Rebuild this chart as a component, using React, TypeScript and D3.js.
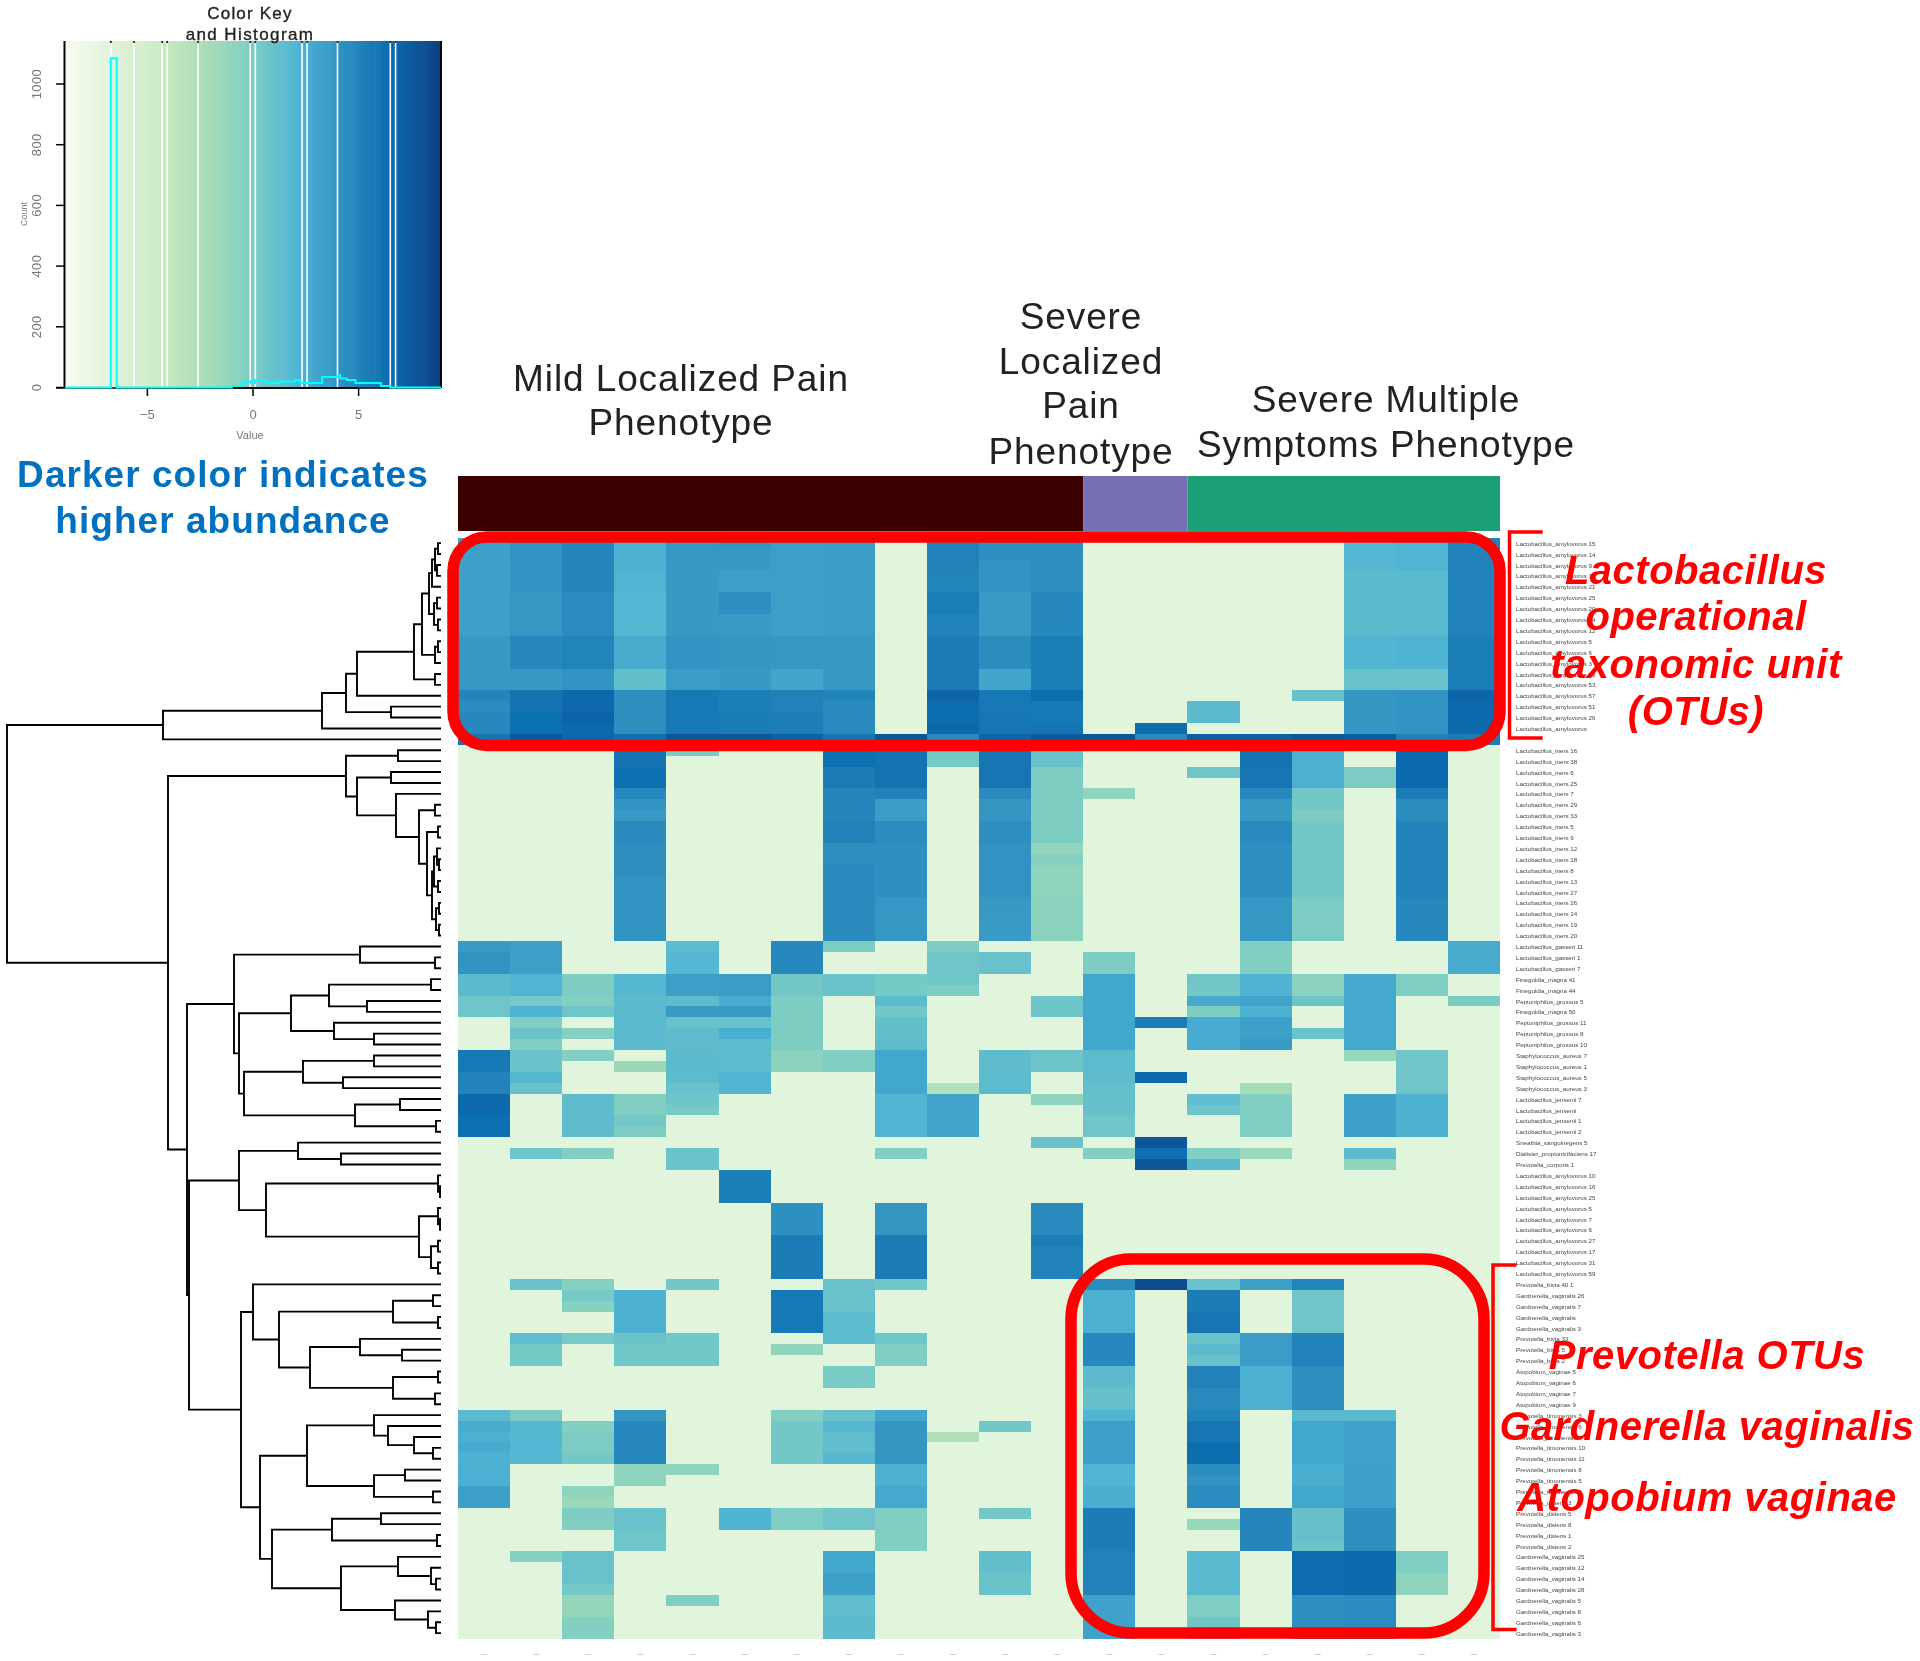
import React, { useMemo } from "react";
import * as d3 from "d3";

const BG = -6.8;
const gnBu = ["#f7fcf0", "#e0f3db", "#ccebc5", "#a8ddb5", "#7bccc4", "#4eb3d3", "#2b8cbe", "#0868ac", "#084081"];
const valueMin = -8.9, valueMax = 8.9;

// Each column: [first row, row after last, value]; rows not listed hold the background value.
const col00 = [[0,9,3.3],[9,14,3.7],[14,15,4.8],[15,16,4.4],[16,18,4.7],[18,19,5.8],[37,38,3.6],[38,40,4.1],[40,42,1.6],[42,44,0.6],[47,49,5.6],[49,51,5.0],[51,53,6.7],[53,55,6.2],[80,81,1.6],[81,82,2.6],[82,83,2.4],[83,84,2.7],[84,85,2.3],[85,87,2.4],[87,89,3.4]];
const col01 = [[0,2,4.1],[2,5,4.0],[5,9,3.8],[9,12,4.7],[12,14,3.8],[14,16,6.0],[16,18,6.2],[18,19,7.5],[37,40,3.3],[40,42,2.1],[42,43,0.3],[43,44,2.2],[44,45,-0.3],[45,46,0.8],[46,47,-0.3],[47,49,0.8],[49,50,1.8],[50,51,0.9],[56,57,0.7],[68,69,1.0],[73,74,1.3],[74,76,0.3],[80,81,0.0],[81,83,1.8],[83,85,1.9],[93,94,-0.6]];
const col02 = [[0,5,4.8],[5,9,4.5],[9,12,4.9],[12,14,4.0],[14,16,6.7],[16,17,6.9],[17,18,6.6],[18,19,6.8],[40,42,-0.1],[42,43,-0.3],[43,44,0.6],[45,46,-0.5],[47,48,-0.4],[51,55,1.4],[56,57,-0.4],[68,69,-0.5],[69,70,0.3],[70,71,-0.6],[73,74,0.2],[81,82,-0.4],[82,84,0.0],[84,85,0.4],[87,88,-1.0],[88,89,-1.6],[89,90,-0.1],[90,91,-0.3],[93,96,0.9],[96,97,0.3],[97,99,-1.3],[99,101,-0.4]];
const col03 = [[0,3,2.3],[3,5,2.1],[5,9,1.9],[9,12,2.6],[12,14,1.2],[14,18,4.3],[18,19,6.2],[19,21,6.0],[21,23,6.1],[23,24,4.7],[24,25,4.0],[25,26,3.6],[26,28,4.6],[28,31,4.3],[31,37,4.0],[40,42,1.8],[42,44,1.6],[44,45,1.7],[45,47,1.6],[48,49,-1.6],[51,53,-0.3],[53,54,0.4],[54,55,0.0],[69,73,2.3],[73,74,0.8],[74,76,0.5],[80,81,3.9],[81,85,4.7],[85,87,-0.9],[89,91,1.0],[91,93,0.6]];
const col04 = [[0,2,3.8],[2,9,3.7],[9,12,4.0],[12,14,3.5],[14,16,5.6],[16,18,5.7],[18,19,7.6],[19,20,0.1],[37,38,1.5],[38,40,1.9],[40,42,3.4],[42,43,1.5],[43,44,3.6],[44,45,1.0],[45,47,1.4],[47,49,1.6],[49,50,1.5],[50,51,1.0],[51,52,0.7],[52,53,0.2],[56,58,0.8],[68,69,0.4],[73,76,0.5],[85,86,-1.0],[97,98,-0.2]];
const col05 = [[0,1,4.0],[1,3,3.7],[3,5,3.4],[5,7,4.2],[7,9,3.6],[9,12,3.9],[12,14,3.7],[14,16,5.2],[16,18,5.5],[18,19,7.7],[40,42,3.5],[42,43,2.6],[43,44,3.6],[44,45,1.0],[45,46,2.5],[46,49,1.5],[49,51,2.0],[58,61,5.2],[89,91,2.2]];
const col06 = [[0,9,3.4],[9,12,3.8],[12,14,3.0],[14,16,5.1],[16,18,5.3],[18,19,7.0],[37,40,4.7],[40,42,0.4],[42,47,-0.1],[47,49,-0.8],[61,64,4.2],[64,68,5.4],[69,73,5.6],[74,75,-1.0],[80,81,-0.4],[81,85,0.4],[89,91,-0.2]];
const col07 = [[0,9,3.5],[9,14,3.7],[14,15,4.9],[15,18,4.6],[18,19,6.0],[19,21,6.1],[21,23,5.4],[23,26,4.8],[26,28,5.0],[28,30,4.3],[30,37,4.6],[37,38,0.0],[40,42,0.8],[47,49,-0.3],[68,71,1.0],[71,74,1.5],[76,78,0.1],[80,81,0.9],[81,82,1.9],[82,84,1.3],[84,85,1.9],[89,91,0.6],[93,95,2.9],[95,97,3.4],[97,99,1.3],[99,101,1.6]];
const col08 = [[18,19,7.8],[19,23,6.0],[23,24,5.0],[24,26,3.5],[26,28,4.4],[28,33,4.2],[33,37,3.8],[40,42,0.3],[42,43,1.5],[43,44,0.4],[44,46,1.2],[46,47,1.4],[47,51,2.9],[51,55,2.1],[56,57,-0.3],[61,64,3.9],[64,68,5.5],[68,69,0.5],[73,74,0.6],[74,76,-0.2],[80,81,2.9],[81,85,3.9],[85,87,2.3],[87,89,2.8],[89,93,-0.3]];
const col09 = [[0,3,5.1],[3,5,4.9],[5,7,5.3],[7,9,5.0],[9,14,5.5],[14,15,6.8],[15,17,6.3],[17,18,6.7],[18,19,4.6],[19,21,0.3],[37,38,-0.1],[38,41,0.6],[41,42,-0.1],[50,51,-2.8],[51,55,3.0],[82,83,-2.7]];
const col10 = [[0,2,4.2],[2,5,4.0],[5,9,3.6],[9,12,4.4],[12,14,3.0],[14,16,5.7],[16,18,5.9],[18,19,6.8],[19,23,5.9],[23,24,4.6],[24,26,3.9],[26,28,4.3],[28,33,4.1],[33,35,3.7],[35,37,3.6],[38,40,1.0],[47,49,1.4],[49,51,1.5],[81,82,0.5],[89,90,0.4],[93,95,1.2],[95,97,0.8]];
const col11 = [[0,5,4.3],[5,9,4.7],[9,14,5.2],[14,15,6.4],[15,17,5.6],[17,18,6.0],[18,19,7.5],[19,21,0.9],[21,28,-0.1],[28,29,-1.2],[29,30,-0.5],[30,33,-1.0],[33,37,-0.8],[42,44,0.7],[47,49,0.7],[51,52,-0.9],[55,56,0.9],[61,64,4.6],[64,65,5.5],[65,68,5.0]];
const col12 = [[18,19,7.8],[23,24,-1.1],[38,40,-0.1],[40,47,2.9],[47,49,1.5],[49,50,1.4],[50,51,1.2],[51,53,1.1],[53,55,0.6],[56,57,-0.4],[68,69,4.4],[69,73,2.4],[73,76,4.7],[76,78,1.6],[78,80,1.1],[80,81,2.1],[81,83,3.3],[83,85,3.4],[85,87,2.1],[87,89,2.5],[89,93,5.5],[93,97,5.1],[97,101,3.2]];
const col13 = [[17,18,6.4],[18,19,4.6],[44,45,5.4],[49,50,6.7],[55,56,7.7],[56,57,6.2],[57,58,7.6],[68,69,8.2]];
const col14 = [[15,17,1.6],[18,19,7.2],[21,22,0.6],[40,41,0.6],[41,42,0.4],[42,43,2.8],[43,44,-0.1],[44,47,2.7],[51,52,1.3],[52,53,0.7],[56,57,-0.3],[57,58,1.6],[68,69,0.9],[69,71,5.5],[71,73,5.9],[73,74,0.9],[74,75,1.6],[75,76,0.9],[76,78,5.1],[78,80,4.6],[80,81,4.9],[81,83,5.9],[83,85,6.3],[85,86,4.4],[86,87,4.1],[87,89,4.5],[90,91,-1.4],[93,97,1.7],[97,99,-0.2],[99,101,0.6]];
const col15 = [[18,19,7.2],[19,21,6.0],[21,23,5.9],[23,24,4.7],[24,26,3.7],[26,28,4.6],[28,33,4.2],[33,37,3.8],[37,40,-0.3],[40,42,2.2],[42,43,3.2],[43,44,2.3],[44,46,3.3],[46,47,3.6],[50,51,-2.0],[51,52,-0.4],[52,55,-0.2],[56,57,-1.6],[68,69,3.3],[73,76,3.5],[76,80,2.4],[89,93,4.8]];
const col16 = [[14,15,1.0],[18,19,7.7],[19,23,2.4],[23,25,0.4],[25,26,0.0],[26,28,0.4],[28,33,0.5],[33,37,0.0],[40,42,-0.8],[42,43,0.7],[45,46,0.8],[68,69,4.9],[69,73,0.6],[73,76,5.0],[76,80,4.2],[80,81,1.7],[81,85,2.9],[85,87,2.5],[87,89,2.9],[89,92,1.1],[92,93,0.8],[93,97,6.4],[97,101,4.3]];
const col17 = [[0,3,1.9],[3,9,1.6],[9,12,2.0],[12,14,0.9],[14,18,3.9],[18,19,7.3],[21,23,0.0],[40,47,2.8],[47,48,-1.4],[51,55,3.3],[56,57,1.5],[57,58,-1.0],[80,81,1.7],[81,85,3.2],[85,89,3.3],[89,93,4.3],[93,97,6.5],[97,101,4.5]];
const col18 = [[0,3,2.1],[3,9,1.7],[9,12,2.2],[12,14,1.0],[14,18,4.0],[18,19,5.1],[19,23,6.6],[23,24,5.4],[24,26,4.4],[26,33,5.0],[33,37,4.7],[40,42,-0.2],[47,51,0.6],[51,55,2.3],[93,95,-0.2],[95,97,-1.0]];
const col19 = [[0,9,5.0],[9,14,5.3],[14,15,6.8],[15,18,6.7],[18,19,5.4],[37,40,2.6],[42,43,0.0]];
const columns = [col00,col01,col02,col03,col04,col05,col06,col07,col08,col09,col10,col11,col12,col13,col14,col15,col16,col17,col18,col19];
const rowCount = 101;

const sideGroups = [{ n: 12, color: "#3b0000" }, { n: 2, color: "#7570b3" }, { n: 6, color: "#1b9e77" }];

const rowLabels = [
  ...["15","14","9","13","21","25","20","24","12","5","6","3","19","53","57","51","26",""].map((s) => "Lactobacillus_amylovorus " + s),
  "",
  ...["16","38","6","25","7","29","33","5","9","12","18","8","13","27","26","14","19","20"].map((s) => "Lactobacillus_iners " + s),
  "Lactobacillus_gasseri 11", "Lactobacillus_gasseri 1", "Lactobacillus_gasseri 7",
  "Finegoldia_magna 41", "Finegoldia_magna 44", "Peptoniphilus_grossus 5", "Finegoldia_magna 50",
  "Peptoniphilus_grossus 11", "Peptoniphilus_grossus 8", "Peptoniphilus_grossus 10",
  "Staphylococcus_aureus 7", "Staphylococcus_aureus 1", "Staphylococcus_aureus 5", "Staphylococcus_aureus 3",
  "Lactobacillus_jensenii 7", "Lactobacillus_jensenii", "Lactobacillus_jensenii 1", "Lactobacillus_jensenii 2",
  "Sneathia_sanguinegens 5", "Dialister_propionicifaciens 17", "Prevotella_corporis 1",
  ...["10","16","25","5","7","6","27","17","31","59"].map((s) => "Lactobacillus_amylovorus " + s),
  "Prevotella_bivia 40 1",
  "Gardnerella_vaginalis 26", "Gardnerella_vaginalis 7", "Gardnerella_vaginalis", "Gardnerella_vaginalis 3",
  "Prevotella_bivia 33", "Prevotella_bivia 5", "Prevotella_bivia 2",
  "Atopobium_vaginae 5", "Atopobium_vaginae 6", "Atopobium_vaginae 7", "Atopobium_vaginae 9",
  "Prevotella_timonensis 3", "Prevotella_timonensis 6", "Prevotella_timonensis 4", "Prevotella_timonensis 10", "Prevotella_timonensis 11", "Prevotella_timonensis 8", "Prevotella_timonensis 5", "Prevotella_timonensis 9",
  "Prevotella_disiens 3", "Prevotella_disiens 5", "Prevotella_disiens 8", "Prevotella_disiens 1", "Prevotella_disiens 2",
  ...["25","12","14","28","5","8","6","3"].map((s) => "Gardnerella_vaginalis " + s),
];

// Row dendrogram: [merge height, left, right]; a bare number is a row.
const lactoBranch = [278, [119, [95, [84, [27, [19, [12, [9, [6, [3, 0, 1], [4, 2, 3]], 4], [7, [4, 5, 6], [3, 7, 8]]], [6, [3, 9, 10], 11]], [6, 12, 13]], 14], [50, 15, 16]], 17], 18];
const inersBranch = [95, [43, 19, 20], [84, [50, 21, 22], [45, 23, [22, [6, 24, 25], [14, [3, 26, 27], [9, [7, [4, 28, [2, 29, 30]], [3, 31, 32]], [5, [2, 33, 34], [2, 35, 36]]]]]]]];
const midBranch = [207, [81, 37, [6, 38, 39]], [202, [150, [112, [10, 40, 41], [74, 42, 43]], [107, 44, [67, 45, 46]]], [197, [138, [67, 47, 48], [98, 49, 50]], [86, [41, 51, 52], [5, 53, 54]]]]];
const amyloBranch = [202, [143, 55, [100, 56, 57]], [175, [3, 58, [1, 59, 60]], [22, [3, 61, [1, 62, 63]], [10, [3, 64, 65], [3, 66, 67]]]]];
const gBranch = [134, [67, 80, [53, 81, [27, 82, [8, 83, 84]]]], [67, [36, 85, 86], [8, 87, 88]]];
const hBranch = [169, [109, [60, 89, 90], [4, 91, 92]], [100, [43, 93, [10, 94, [5, 95, 96]]], [46, 97, [13, 98, [5, 99, 100]]]]];
const lowBranch = [200, [188, 68, [162, [48, [8, 69, 70], [3, 71, 72]], [131, [81, 73, [39, 74, 75]], [48, [3, 76, 77], [6, 78, 79]]]]], [181, gBranch, hBranch]];
const treeRoot = [434, lactoBranch, [273, inersBranch, [254, midBranch, [252, amyloBranch, lowBranch]]]];

// Colour key and histogram
const keyBreaks = [-6.73, -5.63, -4.3, -4.06, -2.6, -0.13, 0.11, 2.32, 2.56, 4.0, 6.5, 6.75];
const histEdges = [-8.9, -6.73, -6.45, -1.0, -0.5, -0.1, 0.1, 0.6, 1.3, 2.0, 2.25, 3.27, 4.0, 4.13, 4.45, 4.85, 6.05, 6.5, 8.9];
const histCounts = [0, 1085, 0, 5, 20, 15, 25, 15, 20, 25, 15, 35, 40, 30, 25, 15, 5, 0];
const countTicks = [0, 200, 400, 600, 800, 1000];
const valueTicks = [-5, 0, 5];

const SANS = "'Liberation Sans', Arial, sans-serif";
const RED = "#ff0000";

export default function App() {
  const color = useMemo(
    () => d3.scaleLinear<string>().domain(gnBu.map((_, i) => valueMin + (i * (valueMax - valueMin)) / 8)).range(gnBu).interpolate(d3.interpolateRgb),
    []
  );
  const x = d3.scaleBand<number>().domain(d3.range(20)).range([458, 1500]);
  const y = d3.scaleBand<number>().domain(d3.range(rowCount)).range([537.7, 1638.6]);

  const matrix = columns.map((segs) => {
    const c = new Array(rowCount).fill(BG);
    segs.forEach(([a, b, v]) => { for (let r = a; r < b; r++) c[r] = v; });
    return c;
  });

  // dendrogram
  const hx = d3.scaleLinear().domain([0, 434]).range([441, 7]);
  const root = d3.hierarchy<any>(treeRoot, (d) => (Array.isArray(d) ? d.slice(1) : null));
  const pos = new Map<any, { x: number; y: number }>();
  root.eachAfter((n) => {
    if (n.children) {
      const ps = n.children.map((c) => pos.get(c)!);
      pos.set(n, { x: hx(n.data[0]), y: d3.mean(ps, (p) => p.y)! });
    } else {
      pos.set(n, { x: hx(0), y: y(n.data)! + y.bandwidth() / 2 });
    }
  });
  const dendroPath = root.descendants().filter((n) => n.children).map((n) => {
    const p = pos.get(n)!;
    return n.children!.map((c) => {
      const q = pos.get(c)!;
      return `M${p.x},${p.y}V${q.y}H${q.x}`;
    }).join("");
  }).join("");

  // key
  const kx = d3.scaleLinear().domain([-8.9, 8.9]).range([65, 441]);
  const ky = d3.scaleLinear().domain([0, 1000]).range([387.5, 84]);
  const keySteps = d3.range(0, 120);
  const stepW = (valueMax - valueMin) / 120;
  const histPoints = histCounts.map((c, i) => [histEdges[i], c] as [number, number]);
  histPoints.push([histEdges[histEdges.length - 1], 0]);
  const histLine = d3.line<[number, number]>().x((d) => kx(d[0])).y((d) => ky(d[1])).curve(d3.curveStepAfter)(histPoints)!;

  let offset = 0;
  const sides = sideGroups.map((g) => { const s = { ...g, start: offset }; offset += g.n; return s; });

  return (
    <svg width={1920} height={1661} style={{ position: "absolute", left: 0, top: 0, background: "#fff" }} fontFamily={SANS}>
      <defs>
        <filter id="soft" x="-2%" y="-2%" width="104%" height="104%"><feGaussianBlur stdDeviation="0.5" /></filter>
        <filter id="softer" x="-2%" y="-2%" width="104%" height="104%"><feGaussianBlur stdDeviation="0.7" /></filter>
      </defs>

      <g filter="url(#soft)">
        {/* colour key */}
        {keySteps.map((i) => {
          const v = valueMin + i * stepW;
          return <rect key={i} x={kx(v)} y={41} width={kx(v + stepW) - kx(v) + 0.5} height={346.5} fill={color(v + stepW / 2)} />;
        })}
        {keyBreaks.map((b) => (
          <g key={b}>
            <line x1={kx(b)} x2={kx(b)} y1={41} y2={387} stroke="#fff" strokeWidth={1.6} />
            <line x1={kx(b)} x2={kx(b)} y1={41} y2={43} stroke="#111" strokeWidth={1.6} />
          </g>
        ))}
        <line x1={64.5} x2={64.5} y1={41} y2={388} stroke="#000" strokeWidth={2} />
        <line x1={441} x2={441} y1={41} y2={388} stroke="#000" strokeWidth={2} />
        <line x1={56} x2={441} y1={388} y2={388} stroke="#000" strokeWidth={1.5} />
        {countTicks.map((t) => (
          <g key={t}>
            <line x1={56} x2={64} y1={ky(t)} y2={ky(t)} stroke="#000" strokeWidth={1.5} />
            <text transform={`translate(41,${ky(t)}) rotate(-90)`} textAnchor="middle" fontSize={13} letterSpacing={0.4} fill="#777">{t}</text>
          </g>
        ))}
        <line x1={kx(-5)} x2={kx(5)} y1={388} y2={388} stroke="#000" strokeWidth={1.5} />
        {valueTicks.map((t) => (
          <g key={t}>
            <line x1={kx(t)} x2={kx(t)} y1={388} y2={396} stroke="#000" strokeWidth={1.5} />
            <text x={kx(t)} y={419} textAnchor="middle" fontSize={13} fill="#777">{t === 0 ? "0" : t < 0 ? "\u22125" : "5"}</text>
          </g>
        ))}
        <path d={histLine} fill="none" stroke="#00ffff" strokeWidth={2} />
        <text x={250} y={439} textAnchor="middle" fontSize={11} fill="#777">Value</text>
        <text transform="translate(27,214) rotate(-90)" textAnchor="middle" fontSize={9} fill="#777">Count</text>
        <text x={250} y={19} textAnchor="middle" fontSize={17} letterSpacing={1.2} fill="#222" stroke="#222" strokeWidth={0.35}>Color Key</text>
        <text x={250} y={40} textAnchor="middle" fontSize={17} letterSpacing={1.4} fill="#222" stroke="#222" strokeWidth={0.35}>and Histogram</text>

        <g fontSize={37} fontWeight="bold" fill="#0070c0" textAnchor="middle" letterSpacing={1.05}>
          <text x={223} y={487}>Darker color indicates</text>
          <text x={223} y={533}>higher abundance</text>
        </g>

        {/* phenotype headers */}
        <g fontSize={37} fill="#222" textAnchor="middle" letterSpacing={0.9}>
          <text x={681} y={391}>Mild Localized Pain</text>
          <text x={681} y={435}>Phenotype</text>
          <text x={1081} y={329}>Severe</text>
          <text x={1081} y={374}>Localized</text>
          <text x={1081} y={418}>Pain</text>
          <text x={1081} y={464}>Phenotype</text>
          <text x={1386} y={412}>Severe Multiple</text>
          <text x={1386} y={457}>Symptoms Phenotype</text>
        </g>

        {sides.map((g) => (
          <rect key={g.color} x={x(g.start)} y={476} width={x.bandwidth() * g.n} height={55} fill={g.color} />
        ))}

        {/* heatmap */}
        {matrix.map((c, ci) =>
          c.map((v, ri) => (
            <rect key={ci + "-" + ri} x={x(ci)} y={y(ri)} width={x.bandwidth()} height={y.bandwidth()} fill={color(v)} shapeRendering="crispEdges" />
          ))
        )}

        <path d={dendroPath} fill="none" stroke="#000" strokeWidth={1.9} />

        {/* annotations */}
        <rect x={453} y={537} width={1047} height={208.5} rx={34} ry={34} fill="none" stroke={RED} strokeWidth={11.5} />
        <rect x={1071} y={1259} width={413} height={374} rx={60} ry={60} fill="none" stroke={RED} strokeWidth={11.5} />
        <path d="M1542.7,532H1509.5V738H1542.7" fill="none" stroke={RED} strokeWidth={3.5} />
        <path d="M1516.6,1265H1493V1629.5H1516.6" fill="none" stroke={RED} strokeWidth={3.5} />
      </g>

      <g filter="url(#softer)" fontSize={6.2} fill="#444">
        {rowLabels.map((s, i) => s && <text key={i} x={1516} y={y(i)! + 8}>{s}</text>)}
        {d3.range(20).map((i) => (
          <text key={i} x={x(i)! + x.bandwidth() / 2} y={1656} textAnchor="middle" fontSize={6} fill="#888">{"\u2014"}</text>
        ))}
      </g>

      <g filter="url(#soft)" fontSize={40} fontWeight="bold" fontStyle="italic" fill={RED} textAnchor="middle" letterSpacing={0.5}>
        <text x={1696} y={584}>Lactobacillus</text>
        <text x={1696} y={630}>operational</text>
        <text x={1696} y={678}>taxonomic unit</text>
        <text x={1696} y={725}>(OTUs)</text>
        <text x={1707} y={1369}>Prevotella OTUs</text>
        <text x={1707} y={1440}>Gardnerella vaginalis</text>
        <text x={1707} y={1511}>Atopobium vaginae</text>
      </g>
    </svg>
  );
}
